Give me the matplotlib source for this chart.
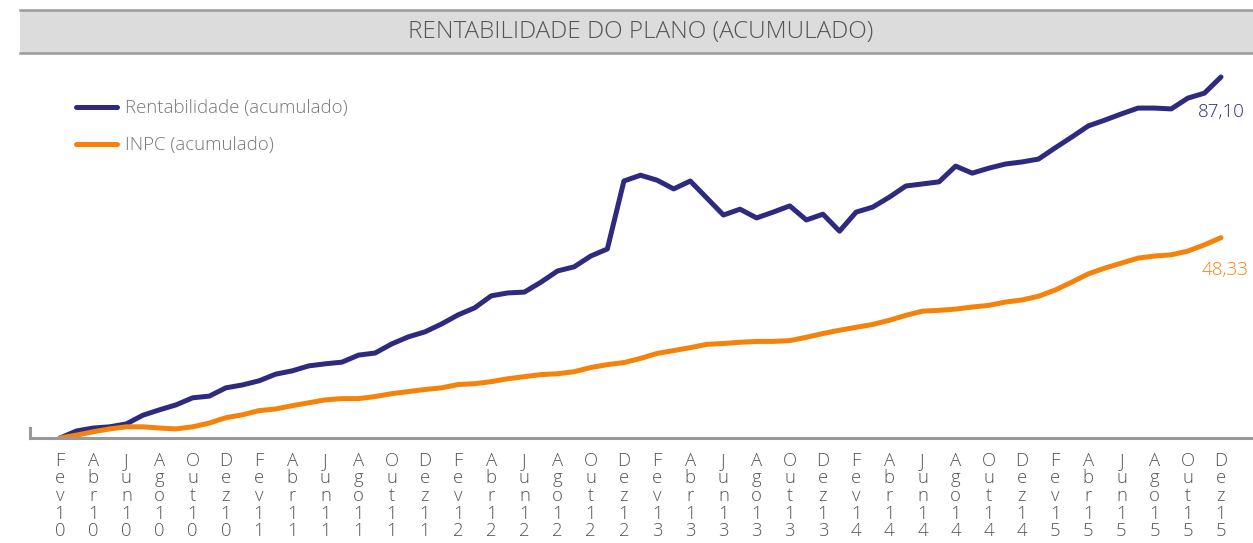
import matplotlib
matplotlib.use("Agg")
import matplotlib.pyplot as plt
from matplotlib.patches import Rectangle
from matplotlib.lines import Line2D

# monthly, Fev/10 .. Dez/15
rentab = [0.0, 1.7, 2.4, 2.7, 3.4, 5.5, 6.8, 8.0, 9.7, 10.1, 12.1, 12.8,
          13.8, 15.4, 16.2, 17.4, 17.9, 18.3, 20.0, 20.5, 22.7, 24.4, 25.6, 27.5,
          29.7, 31.4, 34.3, 35.0, 35.2, 37.6, 40.3, 41.3, 43.9, 45.6, 62.0, 63.4,
          62.2, 60.1, 62.0, 57.9, 53.8, 55.2, 53.1, 54.5, 56.0, 52.6, 54.0, 49.9,
          54.5, 55.7, 58.1, 60.8, 61.3, 61.8, 65.6, 63.9, 65.1, 66.1, 66.6, 67.3,
          70.0, 72.6, 75.3, 76.7, 78.2, 79.6, 79.6, 79.4, 82.0, 83.2, 87.10]
inpc = [0.0, 0.7, 1.5, 2.2, 2.7, 2.7, 2.4, 2.2, 2.7, 3.6, 4.9, 5.6,
        6.6, 7.0, 7.8, 8.5, 9.2, 9.5, 9.5, 10.0, 10.7, 11.2, 11.7, 12.1,
        12.9, 13.1, 13.6, 14.3, 14.8, 15.3, 15.5, 16.0, 17.0, 17.7, 18.2, 19.2,
        20.4, 21.1, 21.8, 22.6, 22.8, 23.1, 23.3, 23.3, 23.5, 24.3, 25.2, 26.0,
        26.7, 27.4, 28.4, 29.6, 30.6, 30.8, 31.1, 31.6, 32.0, 32.8, 33.3, 34.2,
        35.7, 37.6, 39.6, 41.0, 42.2, 43.4, 43.9, 44.2, 45.1, 46.6, 48.33]
tick_months = ["Fev", "Abr", "Jun", "Ago", "Out", "Dez"]
years = ["10", "11", "12", "13", "14", "15"]

purple = "#2d2a80"
orange = "#f5820a"
txt = "#555555"
plt.rcParams['font.family'] = ['Open Sans', 'DejaVu Sans']

fig = plt.figure(figsize=(12.53, 5.43), dpi=100)

# title bar
fig.add_artist(Rectangle((20 / 1253, 1 - 53 / 543), 1, 43 / 543, transform=fig.transFigure,
                         facecolor="#dcdcdc", edgecolor="none"))
for yy in (9.5, 52.5):
    fig.add_artist(Line2D([20 / 1253, 1], [1 - yy / 543] * 2, transform=fig.transFigure,
                          color="#9a9a9a", lw=1.8))
fig.text(641 / 1253, 1 - 32 / 543, "RENTABILIDADE DO PLANO (ACUMULADO)", ha="center", va="center",
         fontsize=17.5, color=txt, fontweight="light")

ax = fig.add_axes([30 / 1253, 1 - 438 / 543, 1 - 30 / 1253, 378 / 543])
x = list(range(len(rentab)))
ax.plot(x, rentab, color=purple, lw=3.6, solid_capstyle="round", solid_joinstyle="round",
        label="Rentabilidade (acumulado)")
ax.plot(x, inpc, color=orange, lw=3.6, solid_capstyle="round", solid_joinstyle="round",
        label="INPC (acumulado)")

ax.set_xlim(-1.81, 71.93)
ax.set_ylim(0, 91.2)
for s in ("top", "right"):
    ax.spines[s].set_visible(False)
ax.spines["bottom"].set_color("#999999")
ax.spines["bottom"].set_linewidth(2.2)
ax.spines["left"].set_color("#999999")
ax.spines["left"].set_linewidth(2.2)
ax.spines["left"].set_bounds(0, 2.4)
ax.set_yticks([])

ticks = list(range(0, len(rentab), 2))
labels = []
for i, t in enumerate(ticks):
    lab = tick_months[i % 6] + years[i // 6]
    labels.append("\n".join(lab))
ax.set_xticks(ticks)
ax.set_xticklabels(labels, fontsize=13.3, color=txt, linespacing=0.97, fontweight="light")
ax.tick_params(axis="x", length=0, pad=10)

leg = ax.legend(loc="upper left", bbox_to_anchor=(0.024, 0.94), frameon=False,
                prop={"size": 13.4, "weight": "light"},
                handlelength=2.2, handletextpad=0.45, labelspacing=1.0)
for t in leg.get_texts():
    t.set_color("#777777")

ax.annotate("87,10", (x[-1], rentab[-1]), xytext=(0, -25.5), textcoords="offset points",
            ha="center", va="center", fontsize=13.5, color=purple, fontweight="light")
ax.annotate("48,33", (x[-1], inpc[-1]), xytext=(3, -23), textcoords="offset points",
            ha="center", va="center", fontsize=13.5, color=orange, fontweight="light")

fig.savefig("out.png", dpi=100)
